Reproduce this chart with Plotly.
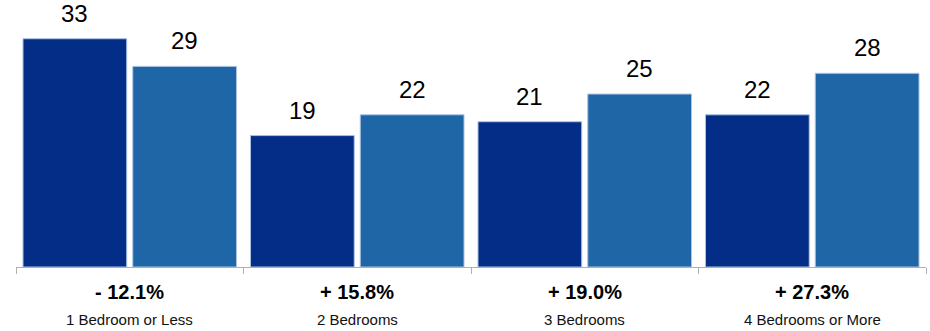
import plotly.graph_objects as go

categories = ["1 Bedroom or Less", "2 Bedrooms", "3 Bedrooms", "4 Bedrooms or More"]
changes = ["- 12.1%", "+ 15.8%", "+ 19.0%", "+ 27.3%"]
series_a = [33, 19, 21, 22]
series_b = [29, 22, 25, 28]

dark = "#032d87"
light = "#1e66a5"
edge = "#a9c2e3"

fig = go.Figure()
fig.add_trace(go.Bar(x=categories, y=series_a, marker=dict(color=dark, line=dict(color=edge, width=1)),
                     hoverinfo="y", name="A"))
fig.add_trace(go.Bar(x=categories, y=series_b, marker=dict(color=light, line=dict(color=edge, width=1)),
                     hoverinfo="y", name="B"))

off = 0.241
anns = []
for i, (a, b) in enumerate(zip(series_a, series_b)):
    for dx, v in ((-off, a), (off, b)):
        anns.append(dict(x=i + dx, y=v, xref="x", yref="y", text=str(v), showarrow=False,
                         yanchor="bottom", yshift=10,
                         font=dict(size=24, color="#000000", family="Liberation Sans, Arial")))
for i, (c, p) in enumerate(zip(categories, changes)):
    anns.append(dict(x=i, y=0, xref="x", yref="y", text="<b>" + p + "</b>", showarrow=False,
                     yanchor="middle", yshift=-25,
                     font=dict(size=20, color="#000000", family="Liberation Sans, Arial")))
    anns.append(dict(x=i, y=0, xref="x", yref="y", text=c, showarrow=False,
                     yanchor="middle", yshift=-52,
                     font=dict(size=15, color="#111111", family="Liberation Sans, Arial")))

fig.update_layout(
    width=930, height=331,
    margin=dict(l=16, r=4, t=0, b=64),
    paper_bgcolor="white", plot_bgcolor="white",
    barmode="group", bargap=0.035, bargroupgap=0.055,
    showlegend=False,
    annotations=anns,
    xaxis=dict(showline=True, linecolor="#b0b0b0", linewidth=1, ticks="outside",
               tickson="boundaries", ticklen=6, tickcolor="#b0b0b0", showticklabels=False,
               showgrid=False, zeroline=False),
    yaxis=dict(range=[0, 38.6], visible=False, showgrid=False, zeroline=False),
)

fig.write_html("out.html")
